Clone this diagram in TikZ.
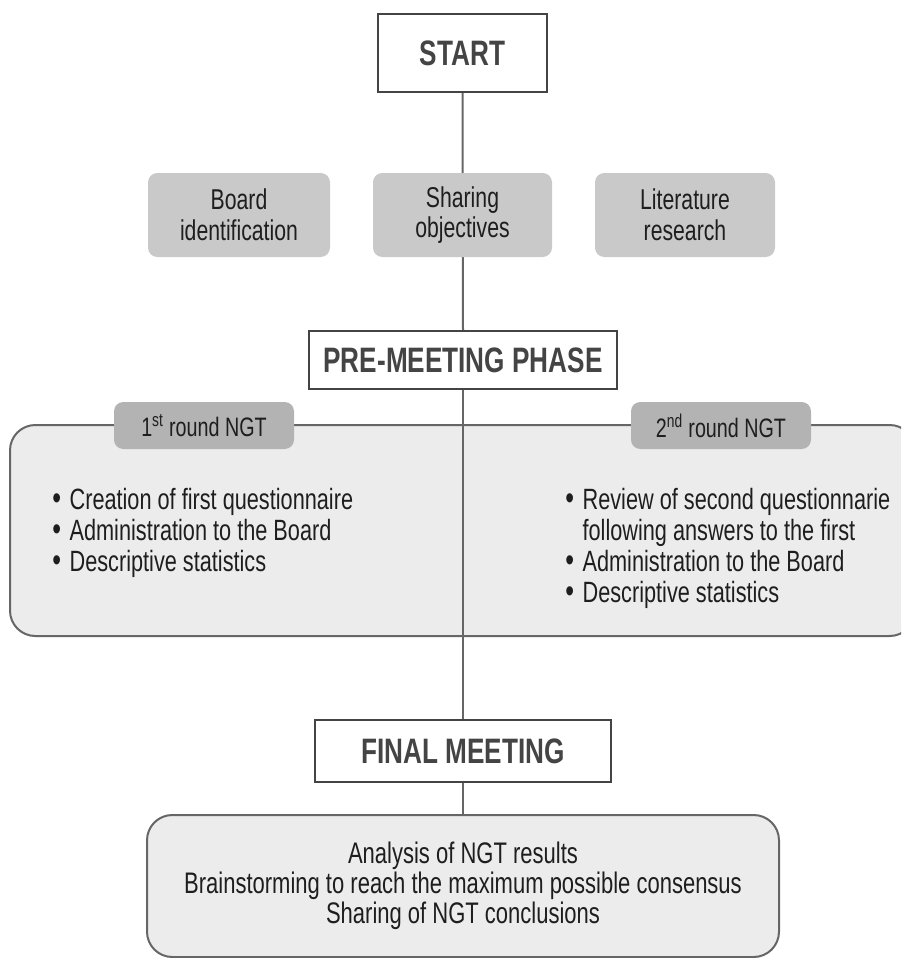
\documentclass[tikz,border=0pt]{standalone}
\usepackage{fontspec}
\setmainfont{Liberation Sans}[FakeStretch=0.74]
\definecolor{lineg}{HTML}{666666}
\definecolor{boxg}{HTML}{C9C9C9}
\definecolor{tabg}{HTML}{B3B3B3}
\definecolor{pale}{HTML}{ECECEC}
\definecolor{txt}{HTML}{1E1E1E}
\definecolor{head}{HTML}{444444}
\newcommand{\bul}{\makebox[13pt][l]{\scalebox{1.15}{\textbullet}}}
\tikzset{
  headbox/.style={draw=head, line width=1.5pt, fill=white, inner sep=0pt, text=head,
    font=\fontsize{26.5}{30}\selectfont\bfseries},
  graybox/.style={fill=boxg, rounded corners=7pt, inner sep=0pt, align=center, text=txt,
    font=\fontsize{21.5}{23}\selectfont},
  tabbox/.style={fill=tabg, rounded corners=7pt, inner sep=0pt, text=txt,
    minimum width=135pt, minimum height=35.25pt, font=\fontsize{20}{23}\selectfont},
  bigbox/.style={draw=lineg, line width=1.5pt, fill=pale, rounded corners=19pt},
  conn/.style={draw=lineg, line width=1.5pt},
  listtext/.style={align=left, inner sep=0pt, text=txt, font=\fontsize{22}{23.25}\selectfont}
}
\begin{document}
\begin{tikzpicture}[x=0.75pt, y=-0.75pt]
\clip (0,0) rectangle (901,958);
\fill[white] (0,0) rectangle (901,958);
% big NGT box
\draw[bigbox] (10,425) rectangle (915,636);
% nodes
\node[headbox, minimum width=126.75pt, minimum height=58.5pt] (start) at (462.5,53) {START};
\node[headbox, minimum width=231pt, minimum height=43.5pt] (pre) at (463,360) {PRE-MEETING PHASE};
\node[headbox, minimum width=222pt, minimum height=46.5pt] (final) at (463,751) {FINAL MEETING};
\node[bigbox, inner sep=0pt, minimum width=474pt, minimum height=106.5pt, rounded corners=19pt,
  listtext, align=center, font=\fontsize{22.3}{22.5}\selectfont] (bottom) at (463,886)
  {\raisebox{-3pt}{}Analysis of NGT results\\Brainstorming to reach the maximum possible consensus\\Sharing of NGT conclusions};
% connectors
\draw[conn] (start.south) -- (pre.north);
\draw[conn] (pre.south) -- (final.north);
\draw[conn] (final.south) -- (bottom.north);
% redraw heads on top of line
\node[headbox, minimum width=126.75pt, minimum height=58.5pt] at (462.5,53) {START};
\node[headbox, minimum width=231pt, minimum height=43.5pt] at (463,360) {PRE-MEETING PHASE};
\node[headbox, minimum width=222pt, minimum height=46.5pt] at (463,751) {FINAL MEETING};
% bottom text shifted slightly down
% gray boxes
\node[graybox, minimum width=136.5pt, minimum height=63pt] (board) at (239,215) {Board\\identification};
\node[graybox, minimum width=134.25pt, minimum height=63pt] (share) at (462.5,215) {Sharing\\objectives};
\node[graybox, minimum width=135pt, minimum height=63pt] (lit) at (685,215) {Literature\\research};
% tabs
\node[tabbox] (tab1) at (204,425.5) {1\textsuperscript{st} round NGT};
\node[tabbox] (tab2) at (721,425.5) {2\textsuperscript{nd} round NGT};
% lists
\node[listtext, anchor=north west] (list1) at (52,488)
  {\bul Creation of first questionnaire\\
   \bul Administration to the Board\\
   \bul Descriptive statistics};
\node[listtext, anchor=north west] (list2) at (565,488)
  {\bul Review of second questionnarie\\
   \hphantom{\bul}following answers to the first\\
   \bul Administration to the Board\\
   \bul Descriptive statistics};
\end{tikzpicture}
\end{document}
